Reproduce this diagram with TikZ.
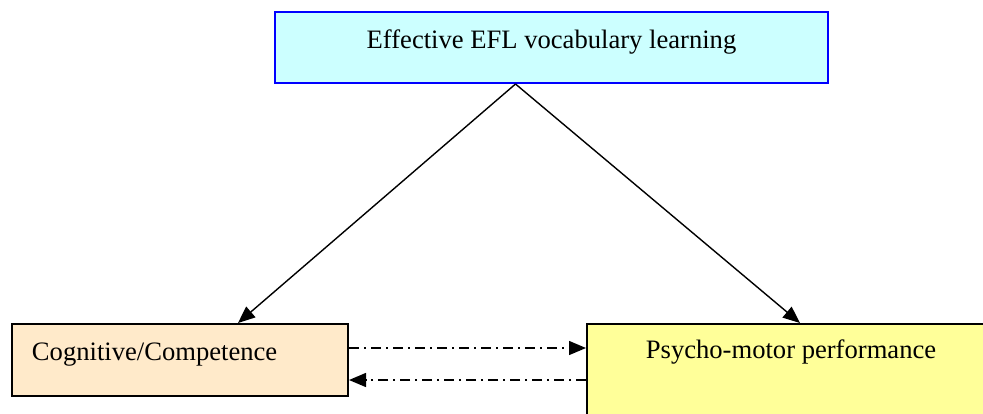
\documentclass[tikz,border=0pt]{standalone}
\usepackage{fontspec}
\setmainfont{Liberation Serif}
\usetikzlibrary{arrows.meta}
\definecolor{eflcyan}{RGB}{204,255,255}
\definecolor{eflblue}{RGB}{0,0,255}
\definecolor{cogpeach}{RGB}{255,234,202}
\definecolor{psyyellow}{RGB}{255,255,153}

\begin{document}
\begin{tikzpicture}[x=0.5pt,y=-0.5pt,
  box/.style={draw,line width=1pt,inner ysep=0pt,font=\fontsize{13.3}{16}\selectfont},
  link/.style={line width=0.7pt,-{Triangle[length=8.5pt,width=7pt]}},
  dashlink/.style={link,dash pattern=on 5pt off 2.5pt on 1pt off 2.5pt}] %
  \useasboundingbox (0,0) rectangle (983,413);
  \clip (0,0) rectangle (983,413);
  \node[box,draw=eflblue,fill=eflcyan,anchor=base,minimum width=276.5pt,
    text height=18pt,text depth=17.5pt] (efl) at (551.5,48) {Effective EFL vocabulary learning}; %
  \node[box,fill=cogpeach,anchor=base,text width=148pt,inner xsep=10pt,align=left,
    text height=18pt,text depth=18pt] (cog) at (180,360) {Cognitive/Competence}; %
  \node[box,fill=psyyellow,anchor=base,minimum width=204pt,
    text height=17pt,text depth=41pt] (psy) at (791,358) {Psycho-motor performance}; %
  \draw[link] ([xshift=-18pt]efl.south) -- ([xshift=29pt]cog.north);
  \draw[link] ([xshift=-18pt]efl.south) -- ([xshift=4.5pt]psy.north);
  \draw[dashlink] ([yshift=6pt]cog.east) -- ([yshift=6pt]cog.east -| psy.west);
  \draw[dashlink] ([yshift=-10pt]cog.east -| psy.west) -- ([yshift=-10pt]cog.east);
\end{tikzpicture}
\end{document}
